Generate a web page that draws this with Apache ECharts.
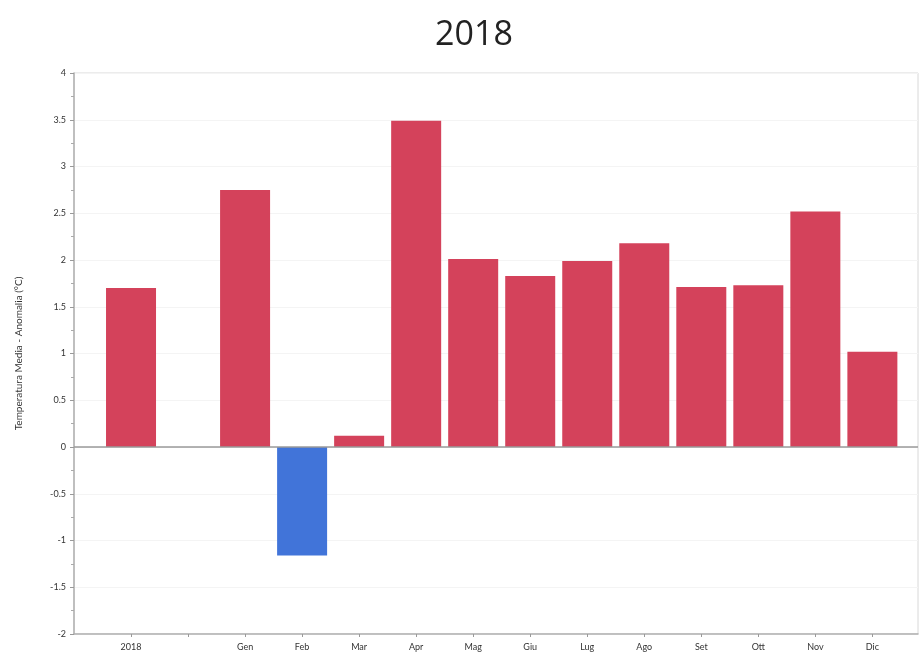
<!DOCTYPE html>
<html>
<head>
<meta charset="utf-8">
<script src="https://cdn.jsdelivr.net/npm/echarts@6/dist/echarts.min.js"></script>
<style>
  html, body { margin: 0; padding: 0; background: #fff; }
  #chart { width: 923px; height: 662px; }
</style>
</head>
<body>
<div id="chart"></div>
<script>
  // categorie (la seconda e' vuota, separa l'anno dai mesi)
  var categories = ['2018', '', 'Gen', 'Feb', 'Mar', 'Apr', 'Mag', 'Giu', 'Lug', 'Ago', 'Set', 'Ott', 'Nov', 'Dic'];
  // anomalie di temperatura (°C), null = nessuna barra
  var anomalie = [1.70, null, 2.75, -1.16, 0.12, 3.49, 2.01, 1.83, 1.99, 2.18, 1.71, 1.73, 2.52, 1.02];
  var yTicks = [-2, -1.5, -1, -0.5, 0, 0.5, 1, 1.5, 2, 2.5, 3, 3.5, 4];

  var colorCaldo = '#d4425b';
  var colorFreddo = '#4174d9';

  var barData = [];
  anomalie.forEach(function (v, i) {
    if (v === null) return;
    barData.push({
      value: [i, v],
      itemStyle: { color: v < 0 ? colorFreddo : colorCaldo }
    });
  });

  var myChart = echarts.init(document.getElementById('chart'));

  var option = {
    backgroundColor: '#fff',
    animation: false,
    title: {
      text: '2018',
      left: 469,
      textAlign: 'center',
      top: 13,
      textStyle: {
        fontFamily: 'Open Sans',
        fontSize: 34,
        fontWeight: 'normal',
        color: '#222'
      }
    },
    grid: {
      left: 74,
      right: 5,
      top: 73,
      bottom: 28,
      show: true,
      borderColor: '#d8d8d8',
      borderWidth: 1
    },
    xAxis: {
      type: 'value',
      min: -1,
      max: 13.8,
      interval: 1,
      axisLine: { show: true, onZero: false, lineStyle: { color: '#b0b0b0', width: 1.5 } },
      axisTick: {
        show: true,
        length: 3,
        lineStyle: { color: '#999' }
      },
      splitLine: { show: false },
      axisLabel: {
        showMinLabel: false,
        showMaxLabel: false,
        margin: 9,
        fontFamily: 'Lato',
        fontSize: 9,
        color: '#333',
        formatter: function (val) {
          if (Math.abs(val - Math.round(val)) > 1e-6) return '';
          var c = categories[Math.round(val)];
          return c === undefined ? '' : c;
        }
      }
    },
    yAxis: {
      type: 'value',
      min: yTicks[0],
      max: yTicks[yTicks.length - 1],
      interval: 0.5,
      name: 'Temperatura Media - Anomalia (°C)',
      nameLocation: 'middle',
      nameGap: 50,
      nameTextStyle: {
        fontFamily: 'Lato',
        fontSize: 10,
        color: '#333'
      },
      axisLine: { show: true, onZero: false, lineStyle: { color: '#b0b0b0', width: 1.5 } },
      axisTick: { show: true, length: 4, lineStyle: { color: '#999' } },
      minorTick: { show: true, splitNumber: 2, length: 3, lineStyle: { color: '#aaa' } },
      splitLine: { show: true, lineStyle: { color: '#f4f4f4' } },
      axisLabel: {
        margin: 8,
        fontFamily: 'Lato',
        fontSize: 9,
        color: '#333',
        formatter: function (v) { return String(v); }
      }
    },
    series: [
      {
        type: 'bar',
        barWidth: 50,
        data: barData,
        markLine: {
          silent: true,
          symbol: 'none',
          label: { show: false },
          lineStyle: { color: '#9a9a9a', width: 1.5, type: 'solid' },
          data: [{ yAxis: 0 }]
        }
      }
    ]
  };

  myChart.setOption(option);
  window.addEventListener('resize', function () { myChart.resize(); });
</script>
</body>
</html>
